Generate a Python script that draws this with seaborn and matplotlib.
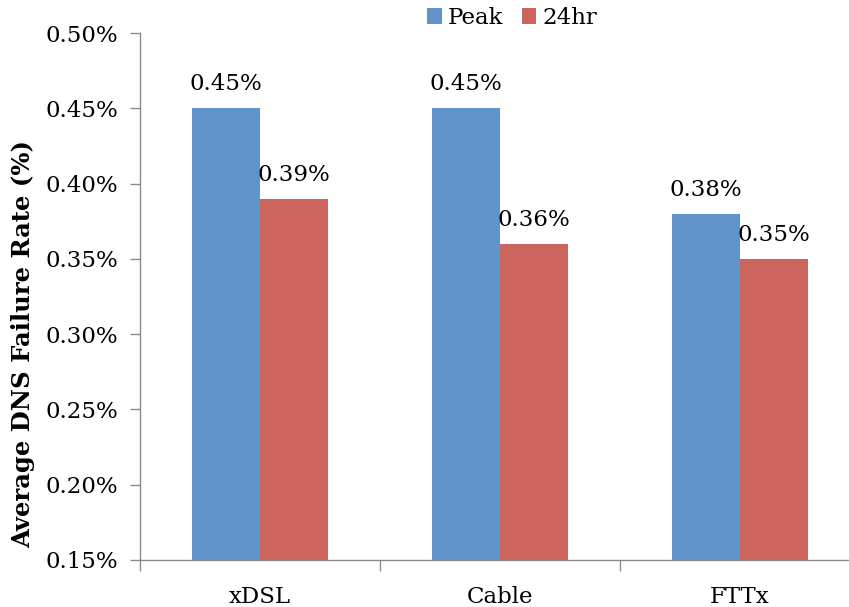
import matplotlib
matplotlib.use("Agg")
import matplotlib.pyplot as plt
import matplotlib.ticker as mticker
from matplotlib.patches import Patch
import seaborn as sns
import pandas as pd

# Access technologies and failure rates (in percent)
categories = ["xDSL", "Cable", "FTTx"]
peak_rates = [0.45, 0.45, 0.38]
day_rates = [0.39, 0.36, 0.35]
series_names = ["Peak", "24hr"]
colors = ["#6194C9", "#CD655F"]
y_ticks = [0.15, 0.20, 0.25, 0.30, 0.35, 0.40, 0.45, 0.50]

df = pd.DataFrame({
    "tech": categories * 2,
    "series": [series_names[0]] * 3 + [series_names[1]] * 3,
    "rate": peak_rates + day_rates,
})

sns.set_theme(style="white")
plt.rcParams["font.family"] = ["DejaVu Serif"]
plt.rcParams["text.color"] = "black"
plt.rcParams["xtick.color"] = "black"
plt.rcParams["ytick.color"] = "black"
plt.rcParams["axes.labelcolor"] = "black"

axis_gray = "#8a8a8a"

fig = plt.figure(figsize=(8.49, 6.07), dpi=100)
ax = fig.add_axes([140 / 849, 1 - 560 / 607, 720 / 849, 527 / 607])

sns.barplot(data=df, x="tech", y="rate", hue="series", order=categories,
            hue_order=series_names, palette=colors, width=0.57,
            saturation=1, ax=ax, legend=False, linewidth=0)

ax.set_ylim(0.15, 0.50)
ax.set_xlim(-0.5, 2.5)
ax.set_yticks(y_ticks)
ax.yaxis.set_major_formatter(mticker.FuncFormatter(lambda v, _: f"{v:.2f}%"))
ax.tick_params(axis="y", labelsize=16.5, length=7, width=1, color=axis_gray,
               labelcolor="black", direction="out", left=True, pad=9)
ax.set_xticks([0, 1, 2])
ax.set_xticklabels(categories)
ax.tick_params(axis="x", labelsize=16.5, length=0, pad=19, labelcolor="black")
# category separator ticks
ax.set_xticks([-0.5, 0.5, 1.5, 2.5], minor=True)
ax.tick_params(axis="x", which="minor", length=8, width=1, color=axis_gray,
               direction="out", bottom=True)

for side in ["top", "right"]:
    ax.spines[side].set_visible(False)
for side in ["left", "bottom"]:
    ax.spines[side].set_color(axis_gray)
    ax.spines[side].set_linewidth(1)

ax.set_xlabel("")
ax.set_ylabel("Average DNS Failure Rate (%)", fontsize=17.5, fontweight="bold")
ax.yaxis.set_label_coords(-0.146, 0.41)

for container in ax.containers:
    for bar in container:
        h = bar.get_height()
        ax.annotate(f"{h:.2f}%", (bar.get_x() + bar.get_width() / 2, h),
                    xytext=(0, 13), textcoords="offset points",
                    ha="center", va="baseline", fontsize=16.5)

handles = [Patch(facecolor=c, edgecolor="none", label=n)
           for c, n in zip(colors, series_names)]
fig.legend(handles=handles, loc="center", bbox_to_anchor=(512 / 849, 1 - 18 / 607),
           ncol=2, frameon=False, fontsize=16.5, handlelength=0.65,
           handleheight=0.65, handletextpad=0.25, columnspacing=0.8,
           borderpad=0, borderaxespad=0)

fig.savefig("out.png", dpi=100)
